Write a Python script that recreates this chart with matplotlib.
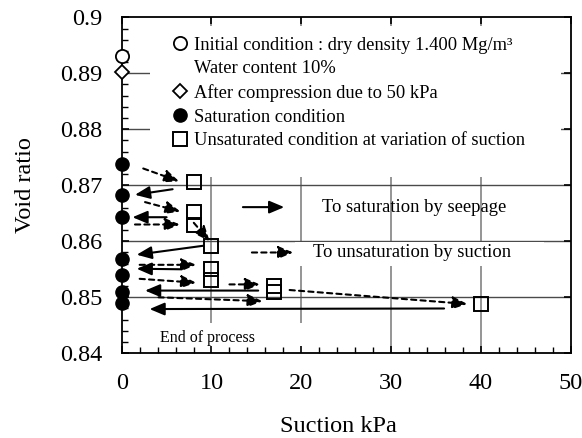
import matplotlib
matplotlib.use("Agg")
import matplotlib.pyplot as plt
from matplotlib.lines import Line2D
from matplotlib.patches import Rectangle

plt.rcParams['font.family'] = ['Liberation Serif', 'DejaVu Serif']

# markers
init_x = [0]
init_y = [0.893]
comp_x = [0]
comp_y = [0.8902]
sat_x = [0, 0, 0, 0, 0, 0, 0]
sat_y = [0.8738, 0.8683, 0.8643, 0.8569, 0.8539, 0.8510, 0.8489]
unsat_x = [8, 8, 8, 10, 10, 10, 17, 17, 40]
unsat_y = [0.8705, 0.8652, 0.8629, 0.8591, 0.8550, 0.8530, 0.8520, 0.8509, 0.8488]

# solid arrows : to saturation by seepage (start -> tip)
seep_x0 = [5.67, 5.0, 9.07, 6.7, 15.2, 35.9]
seep_y0 = [0.8693, 0.8643, 0.8592, 0.8550, 0.8512, 0.8480]
seep_x1 = [1.48, 1.2, 1.67, 1.67, 2.6, 3.1]
seep_y1 = [0.8683, 0.8643, 0.8576, 0.8551, 0.8512, 0.8479]

# dashed arrows : to unsaturation by suction
suc_x0 = [2.4, 2.6, 1.48, 8.03, 2.0, 2.0, 12.0, 4.1, 18.7]
suc_y0 = [0.8730, 0.8670, 0.8630, 0.8633, 0.8558, 0.8533, 0.8523, 0.8500, 0.8513]
suc_x1 = [6.4, 6.55, 6.48, 9.8, 8.3, 8.3, 15.4, 15.7, 38.5]
suc_y1 = [0.8707, 0.8653, 0.8630, 0.8600, 0.8558, 0.8526, 0.8523, 0.8493, 0.8488]

x_ticks = [0, 10, 20, 30, 40, 50]
y_ticks = [0.84, 0.85, 0.86, 0.87, 0.88, 0.89, 0.9]
y_tick_labels = ['0.84', '0.85', '0.86', '0.87', '0.88', '0.89', '0.9']

legend_labels = [
    'Initial condition : dry density 1.400 Mg/m³',
    'Water content 10%',
    'After compression due to 50 kPa',
    'Saturation condition',
    'Unsaturated condition at variation of suction',
]

fig = plt.figure(figsize=(5.82, 4.38), dpi=100)
ax = fig.add_axes([0.2091, 0.1934, 0.7715, 0.7671])

ax.set_xlim(0, 50)
ax.set_ylim(0.84, 0.9)
ax.set_xticks(x_ticks)
ax.set_yticks(y_ticks)
ax.set_yticklabels(y_tick_labels)
ax.set_xticks(range(0, 51, 2), minor=True)
ax.set_yticks([0.84 + 0.002 * i for i in range(31)], minor=True)
ax.tick_params(which='both', direction='in', labelsize=17.5, pad=14)
ax.tick_params(which='major', length=5, width=1.2, right=True, top=True)
ax.tick_params(which='minor', length=4, width=1.0, right=False, top=False)
for sp in ax.spines.values():
    sp.set_linewidth(1.3)

# grid drawn by hand so the white boxes can sit between grid and ticks
for xv in x_ticks[1:-1]:
    ax.axvline(xv, color='#8c8c8c', lw=1.3, zorder=0.5)
for yv in y_ticks[1:-1]:
    ax.axhline(yv, color='#4a4a4a', lw=1.0, zorder=0.5)

# white boxes behind legend and texts
ax.add_patch(Rectangle((3.15, 0.8715), 45.8, 0.0270, fc='white', ec='none', zorder=1))
ax.add_patch(Rectangle((19.3, 0.8556), 27.7, 0.0042, fc='white', ec='none', zorder=1))
ax.add_patch(Rectangle((0.2, 0.8401), 20.8, 0.0053, fc='white', ec='none', zorder=1))

ax.plot(init_x, init_y, 'o', ms=9.5, mfc='white', mec='black', mew=1.3, clip_on=False, zorder=4)
ax.plot(comp_x, comp_y, 'D', ms=7.5, mfc='white', mec='black', mew=1.3, clip_on=False, zorder=4)
ax.plot(sat_x, sat_y, 'o', ms=9.5, color='black', clip_on=False, zorder=4)
ax.plot(unsat_x, unsat_y, 's', ms=9.5, mfc='none', mec='black', mew=1.4, zorder=4)

head = '-|>,head_length=0.9,head_width=0.38'
for i in range(len(seep_x0)):
    ax.annotate('', xy=(seep_x1[i], seep_y1[i]), xytext=(seep_x0[i], seep_y0[i]),
                arrowprops=dict(arrowstyle=head, color='black', lw=1.5,
                                shrinkA=0, shrinkB=0, mutation_scale=10), zorder=3)
for i in range(len(suc_x0)):
    ax.annotate('', xy=(suc_x1[i], suc_y1[i]), xytext=(suc_x0[i], suc_y0[i]),
                arrowprops=dict(arrowstyle=head, color='black', lw=1.5, linestyle=(0, (2.5, 2)),
                                shrinkA=0, shrinkB=0, mutation_scale=10), zorder=3)

# arrow key
ax.annotate('', xy=(18.1, 0.8661), xytext=(13.5, 0.8661),
            arrowprops=dict(arrowstyle=head, color='black', lw=1.5, shrinkA=0, shrinkB=0,
                            mutation_scale=10), zorder=3)
ax.text(22.26, 0.8661, 'To saturation by seepage', fontsize=13.4, va='center', zorder=3)
ax.annotate('', xy=(19.1, 0.8580), xytext=(14.5, 0.8580),
            arrowprops=dict(arrowstyle=head, color='black', lw=1.5, linestyle=(0, (2.5, 2)),
                            shrinkA=0, shrinkB=0, mutation_scale=10), zorder=3)
ax.text(21.3, 0.8580, 'To unsaturation by suction', fontsize=13.4, va='center', zorder=3)
ax.text(9.6, 0.8427, 'End of process', fontsize=11.5, ha='center', va='center', zorder=3)

handles = [
    Line2D([], [], marker='o', ls='none', ms=9.5, mfc='white', mec='black', mew=1.3),
    Line2D([], [], ls='none'),
    Line2D([], [], marker='D', ls='none', ms=7.5, mfc='white', mec='black', mew=1.3),
    Line2D([], [], marker='o', ls='none', ms=9.5, color='black'),
    Line2D([], [], marker='s', ls='none', ms=9.5, mfc='none', mec='black', mew=1.4),
]
ax.legend(handles, legend_labels, loc='upper left', bbox_to_anchor=(0.111, 0.942),
          frameon=False, fontsize=13.3, handlelength=0.9, handletextpad=0.3,
          labelspacing=0.36, borderpad=0, borderaxespad=0)

ax.set_xlabel('Suction kPa', fontsize=17.5, labelpad=16)
ax.xaxis.label.set_x(0.482)
ax.set_ylabel('Void ratio', fontsize=17.5, labelpad=17)

fig.savefig('out.png', dpi=100)
